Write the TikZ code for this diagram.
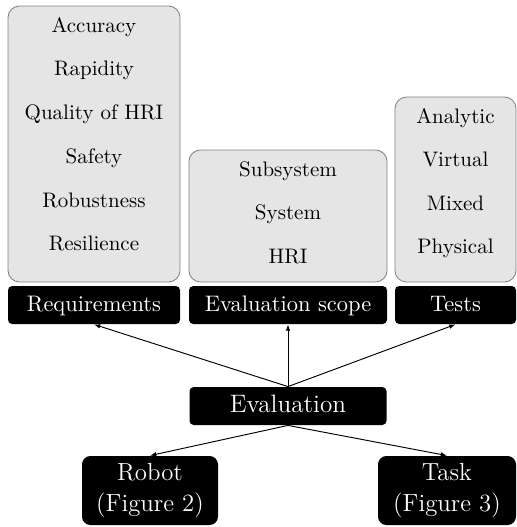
\documentclass[tikz,border=0pt]{standalone}
\usetikzlibrary{arrows.meta}
\newcommand\pxu{0.4762pt}
\begin{document}
\begin{tikzpicture}[x=0.4762pt,y=-0.4762pt,
  graybox/.style={draw=gray, fill=gray!20, rounded corners=5.5pt, line width=0.4pt, inner sep=0pt},
  item/.style={font=\fontsize{10}{12}\selectfont, inner sep=0pt, anchor=base},
  blackbox/.style={fill=black, text=white, rounded corners=2pt, inner sep=0pt,
    minimum height=38*\pxu, text height=7.5pt, text depth=1.5pt, font=\fontsize{10.7}{13}\selectfont},
  evalbox/.style={fill=black, text=white, rounded corners=2pt, inner sep=0pt,
    minimum height=38*\pxu, text height=8.4pt, text depth=2pt, font=\fontsize{12}{14}\selectfont},
  bigbox/.style={fill=black, text=white, rounded corners=4pt, inner sep=0pt, align=center,
    minimum height=69*\pxu, font=\fontsize{11.8}{14.8}\selectfont},
  arr/.style={-{Latex[length=3pt,width=2.2pt]}, line width=0.45pt}]
\useasboundingbox (0,0) rectangle (517,527);

% gray boxes
\node[graybox, minimum width=172*\pxu, minimum height=276*\pxu] (reqg) at (94,144) {};
\node[graybox, minimum width=198*\pxu, minimum height=132*\pxu] (scopeg) at (288,216) {};
\node[graybox, minimum width=121*\pxu, minimum height=185*\pxu] (testg) at (455.5,189.5) {};

% items
\node[item] (r1) at (94,32) {Accuracy};
\node[item] (r2) at (94,75.5) {Rapidity};
\node[item] (r3) at (94,119) {Quality of HRI};
\node[item] (r4) at (94,163) {Safety};
\node[item] (r5) at (94,207) {Robustness};
\node[item] (r6) at (94,250.5) {Resilience};

\node[item] (s1) at (288,176) {Subsystem};
\node[item] (s2) at (288,219.5) {System};
\node[item] (s3) at (288,263) {HRI};

\node[item] (t1) at (455.5,123) {Analytic};
\node[item] (t2) at (455.5,166.5) {Virtual};
\node[item] (t3) at (455.5,210) {Mixed};
\node[item] (t4) at (455.5,253) {Physical};

% black labels
\node[blackbox, minimum width=172*\pxu] (req) at (94,305) {Requirements};
\node[blackbox, minimum width=198*\pxu] (scope) at (288,305) {Evaluation scope};
\node[blackbox, minimum width=121*\pxu] (tests) at (455.5,305) {Tests};

\node[evalbox, minimum width=197*\pxu] (eval) at (288,406) {Evaluation};

\node[bigbox, minimum width=136*\pxu] (robot) at (150,490.5) {Robot\\(Figure 2)};
\node[bigbox, minimum width=138*\pxu] (task) at (447,490.5) {Task\\(Figure 3)};

% connectors
\draw[arr] (eval.north) -- (req.south);
\draw[arr] (eval.north) -- (scope.south);
\draw[arr] (eval.north) -- (tests.south);
\draw[arr] (eval.south) -- (robot.north);
\draw[arr] (eval.south) -- (task.north);
\end{tikzpicture}
\end{document}
